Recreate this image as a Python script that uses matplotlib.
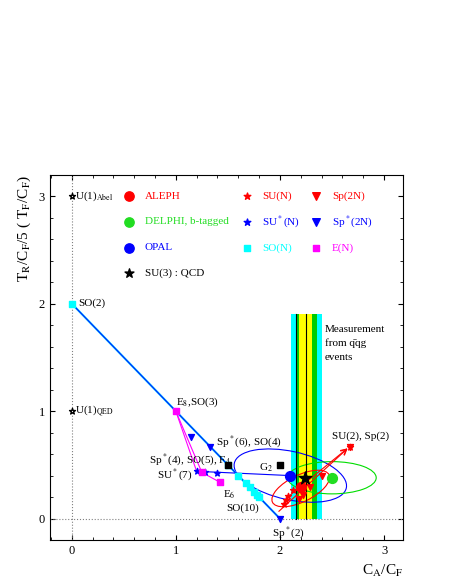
import matplotlib.pyplot as plt
from matplotlib.patches import Ellipse

plt.rcParams["font.family"] = ["Liberation Serif", "DejaVu Serif"]
plt.rcParams["mathtext.fontset"] = "stix"

# group points (C_A/C_F, T_R/C_F)
so_x = [1.5, 1.6, 1.67, 1.71, 1.75, 1.78, 1.8]
so_y = [0.5, 0.4, 0.33, 0.29, 0.25, 0.22, 0.2]
spstar_x = [1.15, 1.33, 2.0]
spstar_y = [0.76, 0.67, 0.0]
sun_x = [2.67, 2.25, 2.13, 2.08, 2.06, 2.04]
sun_y = [0.67, 0.375, 0.27, 0.21, 0.17, 0.14]
sustar_x = [1.2, 1.28, 1.4]
sustar_y = [0.44, 0.43, 0.42]
sp_x = [2.67, 2.4, 2.29, 2.22, 2.18]
sp_y = [0.67, 0.4, 0.29, 0.22, 0.18]
en_x = [1.0, 1.25, 1.42]
en_y = [1.0, 0.43, 0.34]
exc_x = [1.5, 2.0]
exc_y = [0.5, 0.5]

fig = plt.figure(figsize=(4.49, 5.82), dpi=100)
ax = fig.add_axes([0.111, 0.072, 0.786, 0.628])
ax.set_xlim(-0.21, 3.18)
ax.set_ylim(-0.2, 3.2)

# measurement bands
ax.fill_between([2.11, 2.40], 0, 1.9, color="cyan", lw=0)
ax.fill_between([2.15, 2.36], 0, 1.9, color="#00cc00", lw=0)
ax.fill_between([2.18, 2.31], 0, 1.9, color="yellow", lw=0)
for xv in (2.15, 2.25):
    ax.plot([xv, xv], [0, 1.9], color="black", lw=0.8)

ax.axvline(0, color="gray", ls=":", lw=0.8)
ax.axhline(0, color="gray", ls=":", lw=0.8)

ax.plot([0, 2], [2, 0], color="#00bfff", lw=1.5)
ax.plot([0, 2], [2, 0], color="blue", lw=0.6)
ax.plot(en_x, en_y, color="magenta", lw=0.8)
ax.plot([1.0, 1.2], [1.0, 0.44], color="magenta", lw=0.8)
ax.plot([1.2, 2.1], [0.44, 0.4], color="blue", lw=0.8)
ax.annotate("", xy=(2.67, 0.67), xytext=(1.97, 0.05),
            arrowprops=dict(arrowstyle="->", color="red", lw=0.8))
ax.annotate("", xy=(2.67, 0.67), xytext=(2.05, 0.18),
            arrowprops=dict(arrowstyle="->", color="red", lw=0.8))

ax.add_patch(Ellipse((2.1, 0.4), 1.1, 0.45, angle=-12, fill=False, ec="blue", lw=0.8))
ax.add_patch(Ellipse((2.5, 0.38), 0.85, 0.3, fill=False, ec="#00dd00", lw=0.8))
ax.add_patch(Ellipse((2.2, 0.28), 0.6, 0.25, angle=25, fill=False, ec="red", lw=0.8))

ax.scatter(so_x, so_y, marker="s", s=18, color="cyan", zorder=3)
ax.scatter(spstar_x, spstar_y, marker="v", s=18, color="blue", zorder=3)
ax.scatter(sun_x, sun_y, marker="*", s=20, color="red", zorder=3)
ax.scatter(sustar_x, sustar_y, marker="*", s=20, color="blue", zorder=3)
ax.scatter(sp_x, sp_y, marker="v", s=18, color="red", zorder=3)
ax.scatter(en_x, en_y, marker="s", s=18, color="magenta", zorder=3)
ax.scatter(exc_x, exc_y, marker="s", s=18, color="black", zorder=3)
ax.scatter([0, 0], [3, 1], marker="*", s=20, facecolor="white", edgecolor="black", zorder=3)
ax.scatter([0], [2], marker="s", s=18, color="cyan", zorder=3)

ax.scatter([2.2], [0.29], s=50, color="red", zorder=4)
ax.scatter([2.1], [0.4], s=50, color="blue", zorder=4)
ax.scatter([2.5], [0.38], s=50, color="#22dd22", zorder=4)
ax.scatter([2.24], [0.38], s=90, marker="*", color="black", zorder=5)

fs = 8
ax.text(0.03, 3.0, r"U(1)$_{\rm Abel}$", fontsize=fs, va="center")
ax.text(0.03, 1.0, r"U(1)$_{\rm QED}$", fontsize=fs, va="center")
ax.text(0.06, 2.0, "SO(2)", fontsize=fs, va="center")
ax.text(1.0, 1.06, r"E$_8$,SO(3)", fontsize=fs)
ax.text(1.39, 0.69, r"Sp$^*$(6), SO(4)", fontsize=fs)
ax.text(0.74, 0.52, r"Sp$^*$(4), SO(5), F$_4$", fontsize=fs)
ax.text(0.82, 0.38, r"SU$^*$(7)", fontsize=fs)
ax.text(1.45, 0.2, r"E$_6$", fontsize=fs)
ax.text(1.48, 0.07, "SO(10)", fontsize=fs)
ax.text(1.92, -0.16, r"Sp$^*$(2)", fontsize=fs)
ax.text(1.8, 0.45, r"G$_2$", fontsize=fs)
ax.text(2.5, 0.74, "SU(2), Sp(2)", fontsize=fs)
ax.text(2.43, 1.8, "Measurement\nfrom q\u0304qg\nevents", fontsize=fs, va="top", linespacing=1.6)

leg = [
    (0.55, 3.0, "o", "red", "ALEPH", 45),
    (0.55, 2.76, "o", "#22dd22", "DELPHI, b-tagged", 45),
    (0.55, 2.52, "o", "blue", "OPAL", 45),
    (0.55, 2.28, "*", "black", "SU(3) : QCD", 45),
    (1.68, 3.0, "*", "red", "SU(N)", 25),
    (1.68, 2.76, "*", "blue", r"SU$^*$(N)", 25),
    (1.68, 2.52, "s", "cyan", "SO(N)", 25),
    (2.35, 3.0, "v", "red", "Sp(2N)", 30),
    (2.35, 2.76, "v", "blue", r"Sp$^*$(2N)", 30),
    (2.35, 2.52, "s", "magenta", "E(N)", 25),
]
for lx, ly, m, c, t, s in leg:
    ax.scatter([lx], [ly], marker=m, s=s, color=c)
    ax.text(lx + 0.15, ly, t, color=c, fontsize=fs, va="center")

ax.set_xticks([0, 1, 2, 3])
ax.set_yticks([0, 1, 2, 3])
ax.set_xticks([i * 0.2 for i in range(-1, 16)], minor=True)
ax.set_yticks([i * 0.2 for i in range(-1, 17)], minor=True)
ax.tick_params(which="both", direction="in", top=True, right=True, labelsize=9)
ax.set_xlabel(r"C$_{\rm A}$/C$_{\rm F}$", fontsize=11, loc="right")
ax.set_ylabel(r"T$_{\rm R}$/C$_{\rm F}$/5 ( T$_{\rm F}$/C$_{\rm F}$)", fontsize=11, loc="top")

fig.savefig("out.png", dpi=100)
